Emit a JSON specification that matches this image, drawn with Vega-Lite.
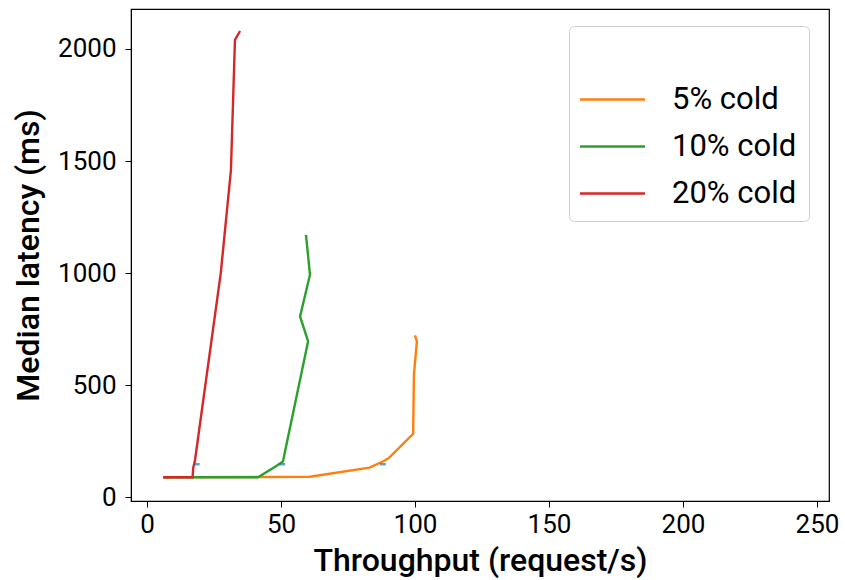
{
  "$schema": "https://vega.github.io/schema/vega-lite/v6.json",
  "width": 698,
  "height": 492,
  "autosize": {"type": "none"},
  "padding": {"left": 131, "top": 9, "right": 16, "bottom": 79},
  "background": "white",
  "config": {
    "font": "Roboto",
    "view": {"stroke": "black", "strokeWidth": 1.2},
    "axis": {
      "grid": false,
      "domainColor": "black",
      "tickColor": "black",
      "tickSize": 6,
      "labelFontSize": 26,
      "labelColor": "black",
      "titleFontSize": 32,
      "titleFontWeight": 500,
      "titleColor": "black",
      "labelFont": "Roboto",
      "titleFont": "Roboto",
      "format": "d"
    }
  },
  "datasets": {
    "lines": [
      {"series": "5% cold", "order": 1, "x": 6, "y": 90},
      {"series": "5% cold", "order": 2, "x": 60.8, "y": 92},
      {"series": "5% cold", "order": 3, "x": 83, "y": 133},
      {"series": "5% cold", "order": 4, "x": 88, "y": 160},
      {"series": "5% cold", "order": 5, "x": 90, "y": 173},
      {"series": "5% cold", "order": 6, "x": 99.3, "y": 284},
      {"series": "5% cold", "order": 7, "x": 99.6, "y": 550},
      {"series": "5% cold", "order": 8, "x": 100.7, "y": 696},
      {"series": "5% cold", "order": 9, "x": 100, "y": 723},
      {"series": "10% cold", "order": 1, "x": 6, "y": 90},
      {"series": "10% cold", "order": 2, "x": 41.4, "y": 90},
      {"series": "10% cold", "order": 3, "x": 47.8, "y": 137},
      {"series": "10% cold", "order": 4, "x": 50.7, "y": 160},
      {"series": "10% cold", "order": 5, "x": 60.1, "y": 696},
      {"series": "10% cold", "order": 6, "x": 57.1, "y": 807},
      {"series": "10% cold", "order": 7, "x": 60.8, "y": 993},
      {"series": "10% cold", "order": 8, "x": 59.3, "y": 1171},
      {"series": "20% cold", "order": 1, "x": 6, "y": 90},
      {"series": "20% cold", "order": 2, "x": 17, "y": 90},
      {"series": "20% cold", "order": 3, "x": 17.2, "y": 130},
      {"series": "20% cold", "order": 4, "x": 17.9, "y": 167},
      {"series": "20% cold", "order": 5, "x": 27.5, "y": 1000},
      {"series": "20% cold", "order": 6, "x": 31.3, "y": 1460},
      {"series": "20% cold", "order": 7, "x": 32.8, "y": 2040},
      {"series": "20% cold", "order": 8, "x": 34.7, "y": 2080}
    ],
    "marks": [
      {"x": 18.5, "y": 148},
      {"x": 50.4, "y": 148},
      {"x": 88, "y": 148}
    ]
  },
  "layer": [
    {
      "data": {"name": "lines"},
      "mark": {"type": "line", "strokeWidth": 2.4},
      "encoding": {
        "x": {
          "field": "x", "type": "quantitative",
          "scale": {"domain": [-6, 254.5], "nice": false, "zero": false},
          "axis": {"values": [0, 50, 100, 150, 200, 250], "title": "Throughput (request/s)", "titlePadding": 8, "labelPadding": 4}
        },
        "y": {
          "field": "y", "type": "quantitative",
          "scale": {"domain": [-16, 2178], "nice": false, "zero": false},
          "axis": {"values": [0, 500, 1000, 1500, 2000], "title": "Median latency (ms)", "titlePadding": 12, "labelPadding": 9}
        },
        "color": {
          "field": "series", "type": "nominal",
          "scale": {"domain": ["5% cold", "10% cold", "20% cold"], "range": ["#ff7f0e", "#2ca02c", "#d62728"]},
          "legend": {
            "orient": "none",
            "legendX": 438,
            "legendY": 17,
            "title": " ",
            "titleFontSize": 26,
            "titlePadding": 20,
            "symbolType": "M-2.5,0H2.5",
            "symbolSize": 676,
            "symbolStrokeWidth": 2.4,
            "symbolFillColor": "transparent",
            "symbolOffset": 16,
            "labelFontSize": 31,
            "labelFont": "Roboto",
            "labelColor": "black",
            "labelOffset": 44,
            "rowPadding": 15,
            "padding": 12,
            "strokeColor": "#d0d0d0",
            "fillColor": "white",
            "cornerRadius": 5
          }
        },
        "order": {"field": "order", "type": "quantitative"}
      }
    },
    {
      "data": {"name": "marks"},
      "mark": {"type": "tick", "orient": "horizontal", "color": "#1f77b4", "size": 6, "thickness": 2.5},
      "encoding": {
        "x": {"field": "x", "type": "quantitative"},
        "y": {"field": "y", "type": "quantitative"}
      }
    }
  ]
}
